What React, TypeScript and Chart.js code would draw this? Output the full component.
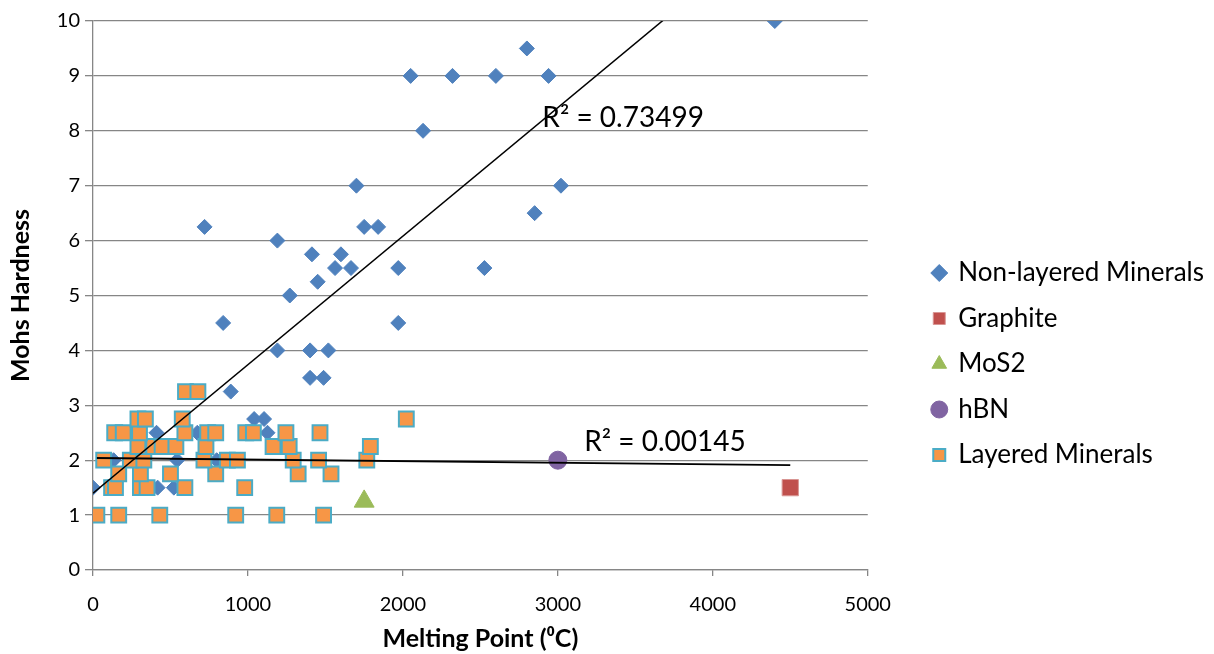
import React, { useEffect, useRef } from 'react';
import { Chart, registerables } from 'chart.js';

Chart.register(...registerables);

// ---- Data ----
const nonLayeredX = [0, 133, 410, 417, 522, 543, 673, 720, 798, 840, 889, 1040, 1104, 1126, 1190, 1190, 1270, 1401, 1401, 1413, 1450, 1488, 1519, 1562, 1600, 1665, 1700, 1750, 1840, 1970, 1970, 2050, 2130, 2320, 2526, 2600, 2800, 2850, 2940, 3020, 4400];
const nonLayeredY = [1.5, 2, 2.5, 1.5, 1.5, 2, 2.5, 6.25, 2, 4.5, 3.25, 2.75, 2.75, 2.5, 6, 4, 5, 4, 3.5, 5.75, 5.25, 3.5, 4, 5.5, 5.75, 5.5, 7, 6.25, 6.25, 5.5, 4.5, 9, 8, 9, 5.5, 9, 9.5, 6.5, 9, 7, 10];

const layeredX = [25, 166, 431, 921, 1186, 1488, 120, 145, 306, 349, 593, 979, 166, 306, 500, 792, 1324, 1536, 69, 241, 328, 716, 867, 932, 1292, 1456, 1767, 290, 392, 446, 535, 729, 1162, 1266, 1790, 140, 195, 300, 593, 740, 792, 986, 1035, 1245, 1465, 290, 338, 576, 2022, 597, 677];
const layeredY = [1, 1, 1, 1, 1, 1, 1.5, 1.5, 1.5, 1.5, 1.5, 1.5, 1.75, 1.75, 1.75, 1.75, 1.75, 1.75, 2, 2, 2, 2, 2, 2, 2, 2, 2, 2.25, 2.25, 2.25, 2.25, 2.25, 2.25, 2.25, 2.25, 2.5, 2.5, 2.5, 2.5, 2.5, 2.5, 2.5, 2.5, 2.5, 2.5, 2.75, 2.75, 2.75, 2.75, 3.25, 3.25];

const graphiteX = [4500];
const graphiteY = [1.5];
const mos2X = [1750];
const mos2Y = [1.25];
const hbnX = [3000];
const hbnY = [2];

const nonLayeredTrendX = [0, 4400];
const nonLayeredTrendY = [1.4, 11.7];
const layeredTrendX = [25, 4500];
const layeredTrendY = [2.04, 1.91];

const r2Labels = ['R² = 0.73499', 'R² = 0.00145'];
const r2LabelX = [2900, 3170];
const r2LabelY = [8.23, 2.33];

const seriesNames = ['Non-layered Minerals', 'Graphite', 'MoS2', 'hBN', 'Layered Minerals'];
const xTitle = 'Melting Point (⁰C)';
const yTitle = 'Mohs Hardness';

const FONT = 'Lato, "Open Sans", sans-serif';
const GRID = '#868686';

const zip = (xs: number[], ys: number[]) => xs.map((x, i) => ({ x, y: ys[i] }));

const r2Plugin = {
  id: 'r2Labels',
  afterDatasetsDraw(chart: any) {
    const { ctx, scales } = chart;
    ctx.save();
    ctx.font = `28px ${FONT}`;
    ctx.fillStyle = '#000';
    ctx.textAlign = 'left';
    ctx.textBaseline = 'middle';
    r2Labels.forEach((t, i) => {
      ctx.fillText(t, scales.x.getPixelForValue(r2LabelX[i]), scales.y.getPixelForValue(r2LabelY[i]));
    });
    ctx.restore();
  },
};

export default function App() {
  const ref = useRef<HTMLCanvasElement | null>(null);

  useEffect(() => {
    if (!ref.current) return;
    const chart = new Chart(ref.current, {
      type: 'scatter',
      data: {
        datasets: [
          {
            label: seriesNames[0],
            data: zip(nonLayeredX, nonLayeredY),
            pointStyle: 'rectRot',
            pointRadius: 7.5,
            backgroundColor: '#4F81BD',
            borderColor: '#4F81BD',
            borderWidth: 1,
            order: 5,
          },
          {
            label: seriesNames[1],
            data: zip(graphiteX, graphiteY),
            pointStyle: 'rect',
            pointRadius: 11.5,
            backgroundColor: '#C0504D',
            borderColor: '#D99694',
            borderWidth: 1,
            order: 4,
          },
          {
            label: seriesNames[2],
            data: zip(mos2X, mos2Y),
            pointStyle: 'triangle',
            pointRadius: 11.5,
            backgroundColor: '#9BBB59',
            borderColor: '#9BBB59',
            borderWidth: 1,
            order: 3,
          },
          {
            label: seriesNames[3],
            data: zip(hbnX, hbnY),
            pointStyle: 'circle',
            pointRadius: 9,
            backgroundColor: '#8064A2',
            borderColor: '#8064A2',
            borderWidth: 1,
            order: 2,
          },
          {
            label: seriesNames[4],
            data: zip(layeredX, layeredY),
            pointStyle: 'rect',
            pointRadius: 10.5,
            backgroundColor: '#F79646',
            borderColor: '#4BACC6',
            borderWidth: 2,
            order: 1,
          },
          {
            label: 'trend1',
            data: zip(nonLayeredTrendX, nonLayeredTrendY),
            showLine: true,
            pointRadius: 0,
            borderColor: '#000',
            borderWidth: 1.5,
            order: 0,
          },
          {
            label: 'trend2',
            data: zip(layeredTrendX, layeredTrendY),
            showLine: true,
            pointRadius: 0,
            borderColor: '#000',
            borderWidth: 1.8,
            order: 0,
          },
        ],
      },
      options: {
        responsive: false,
        animation: false,
        events: [],
        layout: { padding: { top: 21, left: 0, right: 0, bottom: 0 } },
        scales: {
          x: {
            type: 'linear',
            min: 0,
            max: 5000,
            ticks: {
              stepSize: 1000,
              color: '#000',
              padding: 17,
              font: { family: FONT, size: 20 },
              callback: (v: any) => `${v}`,
            },
            grid: { drawOnChartArea: false, drawTicks: true, tickLength: 6, color: GRID, lineWidth: 1.3 },
            border: { display: true, color: GRID, width: 1.3 },
            title: {
              display: true,
              text: xTitle,
              color: '#000',
              font: { family: FONT, size: 25, weight: 'bold' },
              padding: { top: 0, bottom: 0 },
            },
            afterFit: (s: any) => {
              s.height = 84;
            },
          },
          y: {
            type: 'linear',
            min: 0,
            max: 10,
            ticks: { stepSize: 1, color: '#000', padding: 5, font: { family: FONT, size: 20 } },
            grid: { color: GRID, lineWidth: 1.3, tickLength: 8 },
            border: { display: true, color: GRID, width: 1.3 },
            title: {
              display: true,
              text: yTitle,
              color: '#000',
              font: { family: FONT, size: 25, weight: 'bold' },
              padding: { top: 6, bottom: 0 },
            },
            afterFit: (s: any) => {
              s.width = 93;
            },
          },
          gap: {
            type: 'linear',
            position: 'right',
            display: false,
            afterFit: (s: any) => {
              s.width = 46;
            },
          },
        },
        plugins: {
          tooltip: { enabled: false },
          legend: {
            position: 'right',
            align: 'center',
            title: { display: true, text: ' ', font: { size: 10, lineHeight: 1 }, padding: { top: 43, bottom: 0 } },
            labels: {
              usePointStyle: true,
              boxWidth: 12,
              boxHeight: 12,
              padding: 19.5,
              color: '#000',
              font: { family: FONT, size: 26 },
              filter: (item: any) => item.datasetIndex < 5,
              sort: (a: any, b: any) => a.datasetIndex - b.datasetIndex,
            },
          },
        },
      },
      plugins: [r2Plugin],
    } as any);
    return () => chart.destroy();
  }, []);

  return (
    <div style={{ position: 'fixed', left: 0, top: 0, width: 1214, height: 654, background: '#fff' }}>
      <canvas ref={ref} width={1214} height={654} />
    </div>
  );
}
